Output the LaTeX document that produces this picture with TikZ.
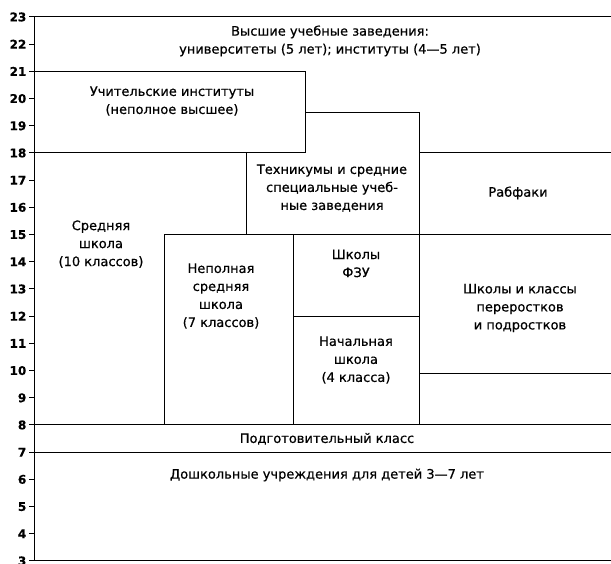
\documentclass[tikz,border=0pt]{standalone}
\usepackage{fontspec}
\setmainfont[FakeBold=0.6]{DejaVu Sans}

\begin{document}
\begin{tikzpicture}[x=1pt,y=27.2pt]
\tikzstyle{stage}=[align=center,font=\fontsize{13}{18}\selectfont\addfontfeature{FakeBold=0.6},inner sep=0pt]
\tikzstyle{age}=[anchor=east,font=\fontsize{12}{12}\selectfont\bfseries,inner sep=0pt]
\tikzstyle{wall}=[line width=1pt]

\useasboundingbox (0,2.89) rectangle (611,23.625);

%age axis.
\draw[wall] (34,23) -- (34,3);
\foreach \y in {3,...,23}{
  \draw[wall] (29,\y) -- (34,\y);
  \node[age] (age\y) at (26.5,\y) {\y};
}

%blocks.
\draw[wall] (34,23) -- (611,23);
\draw[wall] (34,21) -- (305,21) -- (305,18) -- (34,18);
\draw[wall] (305,19.5) -- (419,19.5) -- (419,8);
\draw[wall] (419,18) -- (611,18);
\draw[wall] (246,18) -- (246,15);
\draw[wall] (164,8) -- (164,15) -- (611,15);
\draw[wall] (293,15) -- (293,8);
\draw[wall] (293,12) -- (419,12);
\draw[wall] (419,9.9) -- (611,9.9);
\draw[wall] (34,8) -- (611,8);
\draw[wall] (34,7) -- (611,7);
\draw[wall] (34,3) -- (611,3);

\node[stage] (higher) at (330,22.12) {Высшие учебные заведения:\\университеты (5 лет); институты (4---5 лет)};
\node[stage] (teachers) at (172,19.91) {Учительские институты\\(неполное высшее)};
\node[stage] (technikum) at (332,16.71) {Техникумы и средние\\специальные учеб-\\ные заведения};
\node[stage] (rabfak) at (518,16.53) {Рабфаки};
\node[stage] (secondary) at (101,14.65) {Средняя\\школа\\(10 классов)};
\node[stage] (incomplete) at (221,12.74) {Неполная\\средняя\\школа\\(7 классов)};
\node[stage] (fzu) at (356,13.94) {Школы\\ФЗУ};
\node[stage] (primary) at (356,10.39) {Начальная\\школа\\(4 класса)};
\node[stage] (overage) at (520,12.30) {Школы и классы\\переростков\\и подростков};
\node[stage] (prep) at (327,7.49) {Подготовительный класс};
\node[stage] (preschool) at (327,6.16) {Дошкольные учреждения для детей 3---7 лет};

\end{tikzpicture}
\end{document}
